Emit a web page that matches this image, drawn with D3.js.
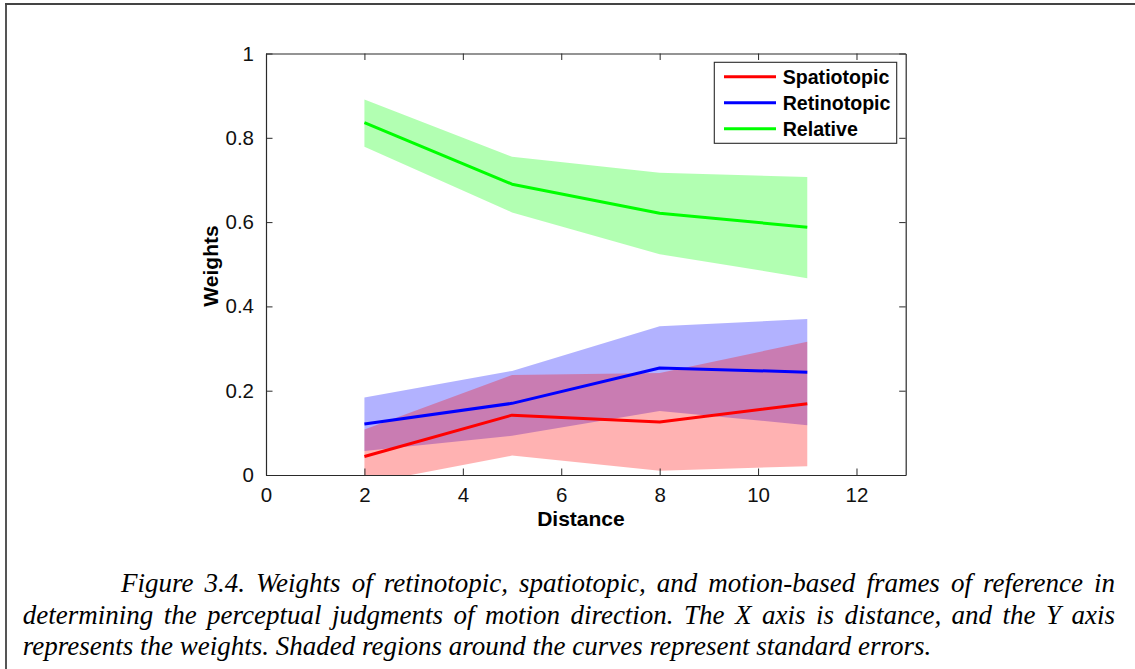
<!DOCTYPE html>
<html>
<head>
<meta charset="utf-8">
<script src="https://cdn.jsdelivr.net/npm/d3@7"></script>
<style>
  html, body { margin: 0; padding: 0; background: #fff; }
  svg { display: block; }
</style>
</head>
<body>
<svg id="fig" width="1135" height="669"></svg>
<script>
// Distances at which the weights were estimated
const distance = [2, 5, 8, 11];

// Spatiotopic frame: mean weight and standard-error band
const spatioMean = [0.044, 0.142, 0.126, 0.169];
const spatioLow  = [-0.021, 0.046, 0.010, 0.021];
const spatioHigh = [0.108, 0.237, 0.242, 0.316];

// Retinotopic frame
const retinoMean = [0.121, 0.170, 0.254, 0.244];
const retinoLow  = [0.057, 0.093, 0.152, 0.118];
const retinoHigh = [0.184, 0.247, 0.353, 0.370];

// Relative (motion-based) frame
const relMean = [0.836, 0.690, 0.621, 0.588];
const relLow  = [0.779, 0.623, 0.524, 0.467];
const relHigh = [0.891, 0.755, 0.717, 0.707];

const xTicks = [0, 2, 4, 6, 8, 10, 12];
const yTicks = [0, 0.2, 0.4, 0.6, 0.8, 1];
const yTickLabels = ["0", "0.2", "0.4", "0.6", "0.8", "1"];

const seriesNames = ["Spatiotopic", "Retinotopic", "Relative"];
const seriesColors = ["#ff0000", "#0000ff", "#00ff00"];

const captionLines = [
  "Figure 3.4. Weights of retinotopic, spatiotopic, and motion-based frames of reference in",
  "determining the perceptual judgments of motion direction. The X axis is distance, and the Y axis",
  "represents the weights. Shaded regions around the curves represent standard errors."
];

const svg = d3.select("#fig");

// Page frame (left and top rules)
svg.append("line").attr("x1", 6).attr("x2", 6).attr("y1", 3).attr("y2", 669)
  .attr("stroke", "#555").attr("stroke-width", 2);
svg.append("line").attr("x1", 5).attr("x2", 1135).attr("y1", 4).attr("y2", 4)
  .attr("stroke", "#444").attr("stroke-width", 2);

// Plot area
const plot = { left: 266, right: 905.7, top: 53.5, bottom: 475 };
const x = d3.scaleLinear().domain([0, 13]).range([plot.left, plot.right]);
const y = d3.scaleLinear().domain([0, 1]).range([plot.bottom, plot.top]);

svg.append("defs").append("clipPath").attr("id", "plotClip")
  .append("rect")
  .attr("x", plot.left).attr("y", plot.top)
  .attr("width", plot.right - plot.left).attr("height", plot.bottom - plot.top);

const series = [
  { mean: spatioMean, low: spatioLow, high: spatioHigh, color: seriesColors[0] },
  { mean: retinoMean, low: retinoLow, high: retinoHigh, color: seriesColors[1] },
  { mean: relMean, low: relLow, high: relHigh, color: seriesColors[2] }
];

const bandGen = d3.area()
  .x(d => x(d.x)).y0(d => y(d.lo)).y1(d => y(d.hi));
const lineGen = d3.line()
  .x(d => x(d.x)).y(d => y(d.v));

const bands = svg.append("g").attr("clip-path", "url(#plotClip)");
// draw order of shaded bands: relative, retinotopic, spatiotopic on top
[2, 1, 0].forEach(i => {
  const s = series[i];
  const pts = distance.map((d, k) => ({ x: d, lo: s.low[k], hi: s.high[k] }));
  bands.append("path").attr("d", bandGen(pts))
    .attr("fill", s.color).attr("fill-opacity", 0.3).attr("stroke", "none");
});

const lines = svg.append("g").attr("clip-path", "url(#plotClip)");
series.forEach(s => {
  const pts = distance.map((d, k) => ({ x: d, v: s.mean[k] }));
  lines.append("path").attr("d", lineGen(pts))
    .attr("fill", "none").attr("stroke", s.color).attr("stroke-width", 3)
    .attr("stroke-linejoin", "round");
});

// Axes box with inward ticks on all four sides
const axisColor = "#2a2a2a";
const tickLen = 6.5;
const fontSans = "'Liberation Sans', Arial, Helvetica, sans-serif";

const xAxisB = d3.axisBottom(x).tickValues(xTicks).tickSizeInner(-tickLen).tickSizeOuter(0).tickPadding(12);
const xAxisT = d3.axisTop(x).tickValues(xTicks).tickSizeInner(-tickLen).tickSizeOuter(0).tickFormat("");
const yAxisL = d3.axisLeft(y).tickValues(yTicks).tickSizeInner(-tickLen).tickSizeOuter(0).tickPadding(12)
  .tickFormat((d, i) => yTickLabels[i]);
const yAxisR = d3.axisRight(y).tickValues(yTicks).tickSizeInner(-tickLen).tickSizeOuter(0).tickFormat("");

function styleAxis(g) {
  g.select(".domain").attr("stroke", axisColor).attr("stroke-width", 1.2);
  g.selectAll(".tick line").attr("stroke", axisColor).attr("stroke-width", 1);
  g.selectAll(".tick text").attr("fill", "#111").attr("font-family", fontSans).attr("font-size", 20.5);
}

svg.append("g").attr("transform", `translate(0,${plot.bottom})`).call(xAxisB).call(styleAxis);
svg.append("g").attr("transform", `translate(0,${plot.top})`).call(xAxisT).call(styleAxis);
svg.append("g").attr("transform", `translate(${plot.left},0)`).call(yAxisL).call(styleAxis);
svg.append("g").attr("transform", `translate(${plot.right},0)`).call(yAxisR).call(styleAxis);

// Axis titles
svg.append("text").attr("x", (x(5.5)+x(7.3))/2).attr("y", 526)
  .attr("text-anchor", "middle").attr("font-family", fontSans).attr("font-weight", "bold")
  .attr("font-size", 21).attr("fill", "#000").text("Distance");
svg.append("text").attr("transform", "translate(217.5,266) rotate(-90)")
  .attr("text-anchor", "middle").attr("font-family", fontSans).attr("font-weight", "bold")
  .attr("font-size", 21).attr("fill", "#000").text("Weights");

// Legend
const legend = svg.append("g");
legend.append("rect").attr("x", 714.3).attr("y", 62.3).attr("width", 182.4).attr("height", 81)
  .attr("fill", "#fff").attr("stroke", axisColor).attr("stroke-width", 1.1);
seriesNames.forEach((name, i) => {
  const ly = 76.7 + i * 26;
  legend.append("line").attr("x1", 724).attr("x2", 776).attr("y1", ly).attr("y2", ly)
    .attr("stroke", seriesColors[i]).attr("stroke-width", 3);
  legend.append("text").attr("x", 782.7).attr("y", ly + 7.4)
    .attr("font-family", fontSans).attr("font-weight", "bold").attr("font-size", 19.6)
    .attr("fill", "#000").text(name);
});

// Caption, justified except for the last line
const fontSerif = "'Liberation Serif', 'Times New Roman', serif";
const capSize = 27;
const capLayout = [
  { left: 121, right: 1115, baseline: 592, justify: true },
  { left: 22.7, right: 1115, baseline: 623.5, justify: true },
  { left: 22.7, right: 1115, baseline: 655, justify: false }
];
const cap = svg.append("g").attr("font-family", fontSerif).attr("font-style", "italic")
  .attr("font-size", capSize).attr("fill", "#000");

captionLines.forEach((line, li) => {
  const lay = capLayout[li];
  const words = line.split(" ");
  const nodes = words.map(w => cap.append("text").attr("y", lay.baseline).text(w));
  const widths = nodes.map(n => n.node().getComputedTextLength());
  const spaceProbe = cap.append("text").attr("y", -100).text("a a");
  const aProbe = cap.append("text").attr("y", -100).text("aa");
  const spaceW = spaceProbe.node().getComputedTextLength() - aProbe.node().getComputedTextLength();
  spaceProbe.remove(); aProbe.remove();
  const total = d3.sum(widths);
  const gap = lay.justify ? (lay.right - lay.left - total) / (words.length - 1) : spaceW;
  let cx = lay.left;
  nodes.forEach((n, k) => {
    n.attr("x", cx);
    cx += widths[k] + gap;
  });
});
</script>
</body>
</html>
